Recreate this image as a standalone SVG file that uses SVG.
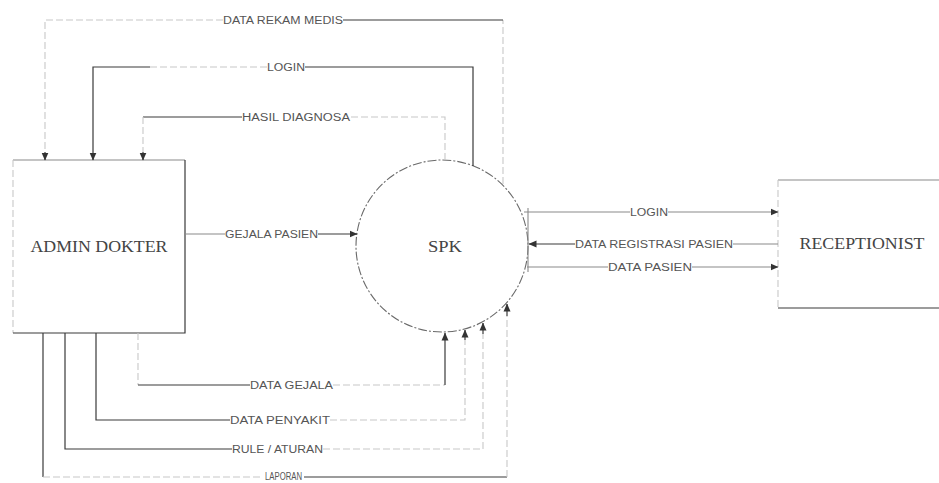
<svg xmlns="http://www.w3.org/2000/svg" width="939" height="483" viewBox="0 0 939 483">
<style>
.c{fill:none;stroke:#3a3a3a;stroke-width:1.2}
.m{fill:none;stroke:#8a8a8a;stroke-width:1.1}
.f{fill:none;stroke:#c8c8c8;stroke-width:1.1;stroke-dasharray:7 3}
.l{font-family:"Liberation Sans",Arial,sans-serif;font-size:10px;fill:#555}
.t{font-family:"Liberation Serif","Times New Roman",serif;font-size:17px;fill:#444}
</style>
<defs>
<marker id="a" markerWidth="8" markerHeight="8" refX="7.5" refY="4" orient="auto" markerUnits="userSpaceOnUse"><path d="M0,0.5 L8,4 L0,7.5z" fill="#333"/></marker>
</defs>
<rect width="939" height="483" fill="#fff"/>

<g id="admin-dokter">
<path class="m" d="M13,160 H185"/>
<path class="f" d="M13,160 V333"/>
<path class="c" d="M185,160 V333 H13"/>
<text class="t" x="99" y="252" text-anchor="middle" textLength="137" lengthAdjust="spacingAndGlyphs">ADMIN DOKTER</text>
</g>

<g id="spk">
<circle cx="442" cy="246" r="86" fill="none" stroke="#6a6a6a" stroke-width="1.1" stroke-dasharray="9 2 2 2"/>
<text class="t" x="445" y="252" text-anchor="middle" textLength="34" lengthAdjust="spacingAndGlyphs">SPK</text>
</g>

<g id="receptionist">
<path class="m" d="M778,180 H939"/>
<path class="f" d="M778,180 V308"/>
<path class="c" d="M778,308 H939"/>
<text class="t" x="862" y="249" text-anchor="middle" textLength="125" lengthAdjust="spacingAndGlyphs">RECEPTIONIST</text>
</g>

<g id="connectors">
<!-- DATA REKAM MEDIS -->
<path class="f" d="M503,184 V20"/>
<path class="c" d="M503,20 H343"/>
<path class="f" d="M223,20 H45 V152"/>
<path class="c" d="M45,152 V160" marker-end="url(#a)"/>
<!-- LOGIN top -->
<path class="c" d="M473,166 V67 H305"/>
<path class="f" d="M267,67 H150"/>
<path class="c" d="M150,67 H93 V160" marker-end="url(#a)"/>
<!-- HASIL DIAGNOSA -->
<path class="f" d="M445,160 V117 H350"/>
<path class="c" d="M242,117 H143"/>
<path class="f" d="M143,117 V152"/>
<path class="c" d="M143,152 V160" marker-end="url(#a)"/>
<!-- GEJALA PASIEN -->
<path class="m" d="M185,234 H225"/>
<path class="c" d="M318,234 H357" marker-end="url(#a)"/>
<!-- LOGIN right -->
<path class="m" d="M524,212 H630"/>
<path class="m" d="M668,212 H778" marker-end="url(#a)"/>
<!-- DATA REGISTRASI PASIEN -->
<path class="m" d="M778,244 H733"/>
<path class="c" d="M575,244 H529" marker-end="url(#a)"/>
<!-- DATA PASIEN -->
<path class="m" d="M527,267 H608"/>
<path class="m" d="M692,267 H778" marker-end="url(#a)"/>
<path class="m" d="M528,208 V272"/>
<!-- DATA GEJALA -->
<path class="f" d="M138,333 V385"/>
<path class="c" d="M138,385 H250"/>
<path class="f" d="M333,385 H445"/>
<path class="c" d="M445,385 V333" marker-end="url(#a)"/>
<!-- DATA PENYAKIT -->
<path class="c" d="M96,333 V420 H230"/>
<path class="f" d="M330,420 H465 V340"/>
<path class="c" d="M465,340 V330" marker-end="url(#a)"/>
<!-- RULE / ATURAN -->
<path class="c" d="M65,333 V449 H232"/>
<path class="f" d="M323,449 H483 V334"/>
<path class="c" d="M483,334 V323" marker-end="url(#a)"/>
<!-- LAPORAN -->
<path class="c" d="M43,333 V477"/>
<path class="f" d="M43,477 H263"/>
<path class="c" d="M304,477 H507"/>
<path class="f" d="M507,477 V316"/>
<path class="c" d="M507,316 V304" marker-end="url(#a)"/>
</g>

<g id="labels">
<text class="l" x="223" y="24" textLength="120" lengthAdjust="spacingAndGlyphs">DATA REKAM MEDIS</text>
<text class="l" x="267" y="71" textLength="38" lengthAdjust="spacingAndGlyphs">LOGIN</text>
<text class="l" x="242" y="121" textLength="108" lengthAdjust="spacingAndGlyphs">HASIL DIAGNOSA</text>
<text class="l" x="225" y="238" textLength="93" lengthAdjust="spacingAndGlyphs">GEJALA PASIEN</text>
<text class="l" x="630" y="216" textLength="38" lengthAdjust="spacingAndGlyphs">LOGIN</text>
<text class="l" x="575" y="248" textLength="158" lengthAdjust="spacingAndGlyphs">DATA REGISTRASI PASIEN</text>
<text class="l" x="608" y="271" textLength="84" lengthAdjust="spacingAndGlyphs">DATA PASIEN</text>
<text class="l" x="250" y="389" textLength="83" lengthAdjust="spacingAndGlyphs">DATA GEJALA</text>
<text class="l" x="230" y="424" textLength="100" lengthAdjust="spacingAndGlyphs">DATA PENYAKIT</text>
<text class="l" x="232" y="453" textLength="91" lengthAdjust="spacingAndGlyphs">RULE / ATURAN</text>
<text class="l" x="265" y="480" font-size="9" textLength="37" lengthAdjust="spacingAndGlyphs">LAPORAN</text>
</g>
</svg>
